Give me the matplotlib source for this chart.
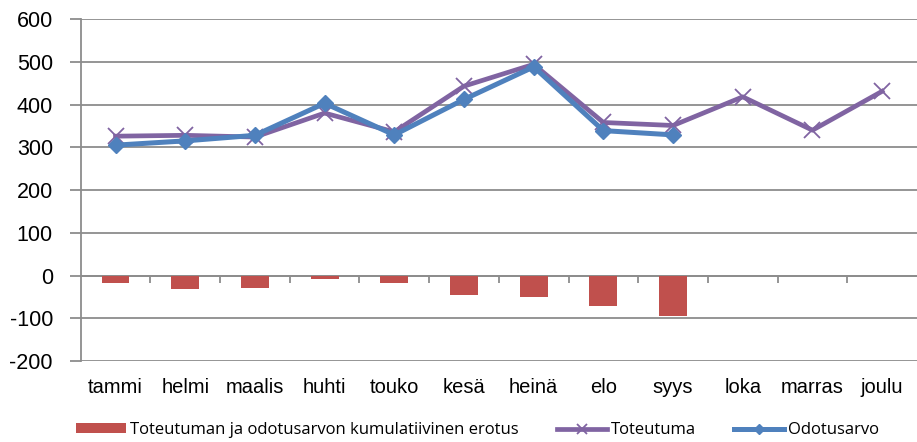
import numpy as np
import matplotlib.pyplot as plt

# Kuukaudet ja arvot
months = ['tammi', 'helmi', 'maalis', 'huhti', 'touko', 'kesä',
          'heinä', 'elo', 'syys', 'loka', 'marras', 'joulu']
toteutuma = [326, 328, 324, 380, 336, 443, 494, 358, 351, 418, 340, 431]
odotusarvo = [305, 315, 328, 403, 329, 412, 488, 339, 329]
erotus = [-18, -31, -28, -7, -17, -46, -51, -71, -95]

bar_color = '#C0504D'
purple = '#8064A2'
blue = '#4F81BD'
grid_color = '#8C8C8C'

plt.rcParams['axes.unicode_minus'] = False

fig = plt.figure(figsize=(9.17, 4.42), dpi=100)
ax = fig.add_axes([0.088, 0.183, 0.912, 0.774])

x = np.arange(len(months))
b = ax.bar(x[:len(erotus)], erotus, width=0.4, color=bar_color, zorder=2)
l1, = ax.plot(x, toteutuma, color=purple, lw=3.4, marker='x', ms=11, mew=1.3,
              zorder=3)
l2, = ax.plot(x[:len(odotusarvo)], odotusarvo, color=blue, lw=3.6, marker='D',
              ms=8, zorder=4)

ax.set_xlim(-0.5, len(months) - 0.5)
ax.set_ylim(-200, 600)
ax.set_yticks(range(-200, 601, 100))
ax.yaxis.grid(True, color=grid_color, lw=1.3)
ax.set_axisbelow(True)
for s in ['top', 'right', 'bottom']:
    ax.spines[s].set_visible(False)
ax.spines['left'].set_color(grid_color)
ax.spines['left'].set_linewidth(1.3)
ax.tick_params(axis='y', length=8, width=1.3, color=grid_color,
               labelsize=15.5, pad=12)
ax.set_xticks(x)
ax.set_xticklabels(months)
ax.tick_params(axis='x', length=0, labelsize=14.5, pad=12)
for lab in ax.get_xticklabels() + ax.get_yticklabels():
    lab.set_fontfamily('Liberation Sans')

# vaaka-akseli nollan kohdalla
ax.axhline(0, color=grid_color, lw=1.3, zorder=1)
sec = ax.secondary_xaxis(0.25)
sec.set_xticks(np.arange(0.5, len(months) - 0.5, 1))
sec.tick_params(axis='x', direction='out', length=5, width=1.3,
                color=grid_color, labelbottom=False)
sec.spines['bottom'].set_visible(False)

fig.legend([b, l1, l2],
           ['Toteutuman ja odotusarvon kumulatiivinen erotus', 'Toteutuma',
            'Odotusarvo'],
           loc='lower left', bbox_to_anchor=(0.066, -0.025), ncol=3,
           frameon=False, handlelength=3.0, handleheight=0.5,
           handletextpad=0.25, columnspacing=2.3, markerscale=0.7,
           prop={'family': 'Open Sans', 'size': 12})

fig.savefig('out.png', dpi=100)
